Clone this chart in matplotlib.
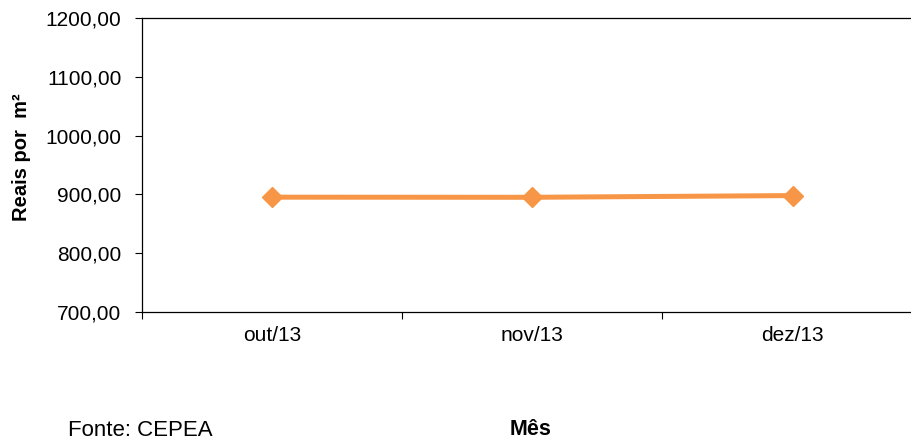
import matplotlib
matplotlib.use("Agg")
import matplotlib.pyplot as plt
from matplotlib.ticker import FixedLocator, FuncFormatter

plt.rcParams['font.family'] = ['Liberation Sans', 'DejaVu Sans']

# preço médio (R$/m²) por mês
meses = ['out/13', 'nov/13', 'dez/13']
precos = [895.3, 895.1, 898.0]
y_ticks = [700, 800, 900, 1000, 1100, 1200]

fig = plt.figure(figsize=(9.12, 4.41), dpi=100)
ax = fig.add_axes([0.1554, 0.2932, 0.8563, 0.6649])

x = list(range(len(meses)))
ax.plot(x, precos, color='#F79646', linewidth=3.6, marker='D', markersize=10,
        markerfacecolor='#F79646', markeredgecolor='#F79646', clip_on=False)

ax.set_xlim(-0.5, len(meses) - 0.5)
ax.set_ylim(700, 1200)

# rótulos no centro das categorias, marcas nas divisões
ax.set_xticks(x)
ax.set_xticklabels(meses)
ax.xaxis.set_minor_locator(FixedLocator([i - 0.5 for i in range(len(meses) + 1)]))
ax.tick_params(axis='x', which='major', length=0, pad=10, labelsize=15)
ax.tick_params(axis='x', which='minor', length=5, width=0.8, direction='out')

ax.set_yticks(y_ticks)
ax.yaxis.set_major_formatter(FuncFormatter(lambda v, p: f"{v:.2f}".replace('.', ',')))
ax.tick_params(axis='y', length=5, width=0.8, direction='out', pad=9.5, labelsize=15)

for s in ax.spines.values():
    s.set_linewidth(0.9)
    s.set_color('black')
ax.spines['right'].set_visible(False)

fig.text(22 / 912, 1 - 157 / 441, 'Reais por  m²', rotation=90, fontsize=14.5,
         fontweight='bold', ha='center', va='center')
fig.text(531 / 912, 1 - 435 / 441, 'Mês', fontsize=15.5, fontweight='bold',
         ha='center', va='baseline')
fig.text(68 / 912, 1 - 436 / 441, 'Fonte: CEPEA', fontsize=16,
         ha='left', va='baseline')

fig.savefig('out.png', dpi=100)
